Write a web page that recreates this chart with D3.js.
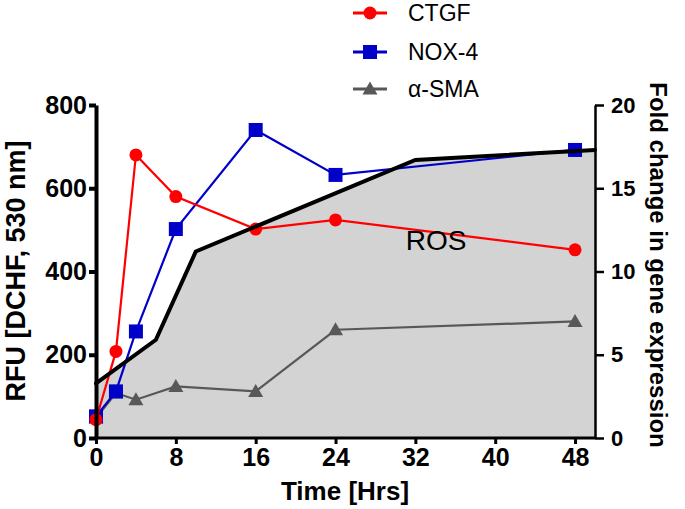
<!DOCTYPE html>
<html><head><meta charset="utf-8">
<script src="https://cdn.jsdelivr.net/npm/d3@7"></script>
<style>
html,body{margin:0;padding:0;background:#fff;}
svg{display:block;font-family:"Liberation Sans",Arial,sans-serif;}
</style></head>
<body><svg id="c" width="685" height="509"></svg>
<script>
// ---- data ----
const hours = [0, 2, 4, 8, 16, 24, 48];
const ctgf = [1.1, 5.2, 17.0, 14.5, 12.55, 13.1, 11.3];   // fold change
const nox4 = [1.3, 2.8, 6.4, 12.55, 18.5, 15.8, 17.3];    // fold change
const asma = [1.2, 2.7, 2.3, 3.1, 2.8, 6.5, 7.0];         // fold change
const rosHours = [0, 6, 10, 32, 50];
const rosRFU = [131, 236, 448, 668, 692];                 // RFU
const xTicks = [0, 8, 16, 24, 32, 40, 48];
const yLeftTicks = [0, 200, 400, 600, 800];
const yRightTicks = [0, 5, 10, 15, 20];
const seriesNames = ["CTGF", "NOX-4", "\u03b1-SMA"];

const svg = d3.select("#c");
const x = d3.scaleLinear().domain([0, 50]).range([96, 595]);
const yL = d3.scaleLinear().domain([0, 800]).range([438, 105]);
const yR = d3.scaleLinear().domain([0, 20]).range([438, 105]);

// ROS area
const ros = rosHours.map((h, i) => ({h, v: rosRFU[i]}));
svg.append("path").datum(ros)
  .attr("fill", "#d3d3d3")
  .attr("d", d3.area().x(d => x(d.h)).y0(yL(0)).y1(d => yL(d.v)));

const series = [
  {name: seriesNames[0], vals: ctgf, color: "#ff0000", marker: "circle"},
  {name: seriesNames[1], vals: nox4, color: "#0000c8", marker: "square"},
  {name: seriesNames[2], vals: asma, color: "#585858", marker: "triangle"}
];
function marker(g, type, color, cx, cy) {
  if (type === "circle") {
    g.append("circle").attr("cx", cx).attr("cy", cy).attr("r", 6.5).attr("fill", color);
  } else if (type === "square") {
    g.append("rect").attr("x", cx - 7).attr("y", cy - 7).attr("width", 14).attr("height", 14).attr("fill", color);
  } else {
    g.append("path").attr("d", `M${cx},${cy - 7.5}L${cx + 7.5},${cy + 5.5}L${cx - 7.5},${cy + 5.5}Z`).attr("fill", color);
  }
}
const line = d3.line().x(d => x(d.h)).y(d => yR(d.v));
// draw in order: asma, nox4, ctgf
[series[2], series[1], series[0]].forEach(s => {
  const pts = hours.map((h, i) => ({h, v: s.vals[i]}));
  const g = svg.append("g");
  g.append("path").datum(pts).attr("fill", "none").attr("stroke", s.color)
    .attr("stroke-width", 2.2).attr("d", line);
  pts.forEach(p => marker(g, s.marker, s.color, x(p.h), yR(p.v)));
});

// ROS line
svg.append("path").datum(ros).attr("fill", "none").attr("stroke", "#000")
  .attr("stroke-width", 4).attr("stroke-linejoin", "miter").attr("stroke-linecap", "round")
  .attr("d", d3.line().x(d => x(d.h)).y(d => yL(d.v)));

svg.append("text").attr("x", 436).attr("y", 250).attr("text-anchor", "middle")
  .attr("font-size", 28).attr("fill", "#000").text("ROS");

// axes
function styleAxis(g, w, fs, bold) {
  g.select(".domain").attr("stroke", "#000").attr("stroke-width", w);
  g.selectAll(".tick line").attr("stroke", "#000").attr("stroke-width", w);
  g.selectAll(".tick text").attr("fill", "#000").attr("font-size", fs)
    .attr("font-weight", bold ? "bold" : "normal").attr("font-family", "Liberation Sans, Arial, sans-serif");
}
const gx = svg.append("g").attr("transform", `translate(0,${yL(0)})`)
  .call(d3.axisBottom(x).tickValues(xTicks).tickSizeInner(6).tickSizeOuter(0).tickPadding(4));
gx.select(".domain").attr("d", `M${x(0)},0H${x(50)}`);
styleAxis(gx, 3, 25, true);

const gl = svg.append("g").attr("transform", `translate(${x(0)},0)`)
  .call(d3.axisLeft(yL).tickValues(yLeftTicks).tickSizeInner(7).tickSizeOuter(0).tickPadding(2));
styleAxis(gl, 4, 25, true);

const gr = svg.append("g").attr("transform", `translate(${x(50)},0)`)
  .call(d3.axisRight(yR).tickValues(yRightTicks).tickSizeInner(9).tickSizeOuter(0).tickPadding(7));
styleAxis(gr, 2.5, 22, true);

// titles
svg.append("text").attr("x", 345).attr("y", 500).attr("text-anchor", "middle")
  .attr("font-size", 26).attr("font-weight", "bold").text("Time [Hrs]");
svg.append("text").attr("transform", "translate(25,271) rotate(-90)").attr("text-anchor", "middle")
  .attr("font-size", 27).attr("font-weight", "bold").text("RFU [DCHF, 530 nm]");
svg.append("text").attr("transform", "translate(650,265) rotate(90)").attr("text-anchor", "middle")
  .attr("font-size", 24).attr("font-weight", "bold").text("Fold change in gene expression");

// legend
const legY = [13, 52, 89];
series.forEach((s, i) => {
  const g = svg.append("g");
  g.append("line").attr("x1", 353).attr("x2", 387).attr("y1", legY[i]).attr("y2", legY[i])
    .attr("stroke", s.color).attr("stroke-width", 3);
  marker(g, s.marker, s.color, 370, legY[i]);
  g.append("text").attr("x", 408).attr("y", legY[i]).attr("dy", "0.35em")
    .attr("font-size", 23).attr("fill", "#000").text(s.name);
});
</script></body></html>
